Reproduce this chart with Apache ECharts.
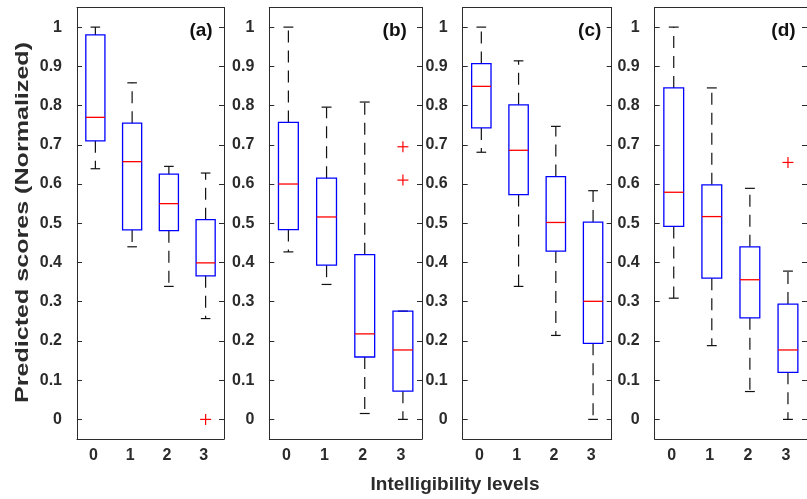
<!DOCTYPE html>
<html><head><meta charset="utf-8">
<script src="https://cdn.jsdelivr.net/npm/echarts@6/dist/echarts.min.js"></script>
<style>html,body{margin:0;padding:0;background:#fff}#c{width:807px;height:499px}</style>
</head><body><div id="c"></div><script>
// ---- data ----
const levels = ['0', '1', '2', '3'];
const yTicks = [0, 0.1, 0.2, 0.3, 0.4, 0.5, 0.6, 0.7, 0.8, 0.9, 1];
// each row: [lower whisker, Q1, median, Q3, upper whisker]
const boxA = [[0.639, 0.710, 0.770, 0.980, 1.000], [0.440, 0.483, 0.657, 0.755, 0.858], [0.339, 0.481, 0.550, 0.625, 0.645], [0.257, 0.366, 0.399, 0.509, 0.628]];
const boxB = [[0.427, 0.484, 0.600, 0.757, 1.000], [0.344, 0.393, 0.516, 0.615, 0.796], [0.015, 0.159, 0.218, 0.420, 0.809], [0.000, 0.072, 0.177, 0.276, 0.276]];
const boxC = [[0.681, 0.743, 0.849, 0.907, 1.000], [0.339, 0.573, 0.686, 0.802, 0.914], [0.214, 0.429, 0.502, 0.619, 0.747], [0.000, 0.194, 0.301, 0.503, 0.583]];
const boxD = [[0.309, 0.492, 0.579, 0.845, 1.000], [0.188, 0.360, 0.517, 0.598, 0.845], [0.071, 0.259, 0.356, 0.440, 0.589], [0.000, 0.120, 0.177, 0.294, 0.378]];
// outliers: [level index, value]
const outA = [[3, 0.000]];
const outB = [[3, 0.695], [3, 0.610]];
const outC = [];
const outD = [[3, 0.655]];
const panelLabels = ['(a)', '(b)', '(c)', '(d)'];
const xTitle = 'Intelligibility levels';
const yTitle = 'Predicted scores (Normalized)';

// ---- layout / style ----
const boxes = [boxA, boxB, boxC, boxD];
const outs = [outA, outB, outC, outD];
const gridPos = [{left: 77, width: 147}, {left: 269.3, width: 152.7}, {left: 462.7, width: 149}, {left: 654.7, width: 160}];
const labelPos = [[201, 31], [394.7, 31], [589.7, 31], [783.5, 31]];
const FONT = '"Liberation Sans", Arial, Helvetica, sans-serif';
const AX = '#2b2b2b';

function renderBox(params, api) {
  const x = api.value(0);
  const band = api.size([1, 0])[0];
  const bw = band * 0.52, cw = band * 0.26;
  const p = i => api.coord([x, api.value(i)]);
  const lw = p(1), q1 = p(2), md = p(3), q3 = p(4), uw = p(5);
  const cx = lw[0];
  const dash = {stroke: '#111', lineWidth: 1.2, lineDash: [12, 8]};
  const solid = {stroke: '#111', lineWidth: 1.2};
  return {type: 'group', children: [
    {type: 'line', shape: {x1: cx, y1: q3[1], x2: cx, y2: uw[1]}, style: dash},
    {type: 'line', shape: {x1: cx, y1: q1[1], x2: cx, y2: lw[1]}, style: dash},
    {type: 'line', shape: {x1: cx - cw / 2, y1: uw[1], x2: cx + cw / 2, y2: uw[1]}, style: solid},
    {type: 'line', shape: {x1: cx - cw / 2, y1: lw[1], x2: cx + cw / 2, y2: lw[1]}, style: solid},
    {type: 'rect', shape: {x: cx - bw / 2, y: q3[1], width: bw, height: q1[1] - q3[1]},
      style: {fill: 'transparent', stroke: '#0000ff', lineWidth: 1.3}},
    {type: 'line', shape: {x1: cx - bw / 2, y1: md[1], x2: cx + bw / 2, y2: md[1]}, style: {stroke: '#ff0000', lineWidth: 1.3}}
  ]};
}
function renderOut(params, api) {
  const c = api.coord([api.value(0), api.value(1)]);
  const s = 5.5;
  const st = {stroke: '#ff0000', lineWidth: 1.2};
  return {type: 'group', children: [
    {type: 'line', shape: {x1: c[0] - s, y1: c[1], x2: c[0] + s, y2: c[1]}, style: st},
    {type: 'line', shape: {x1: c[0], y1: c[1] - s, x2: c[0], y2: c[1] + s}, style: st}
  ]};
}

const grid = [], xAxis = [], yAxis = [], series = [], graphic = [];
gridPos.forEach((g, i) => {
  grid.push({left: g.left, width: g.width, top: 7.5, height: 431.5, containLabel: false});
  const lineStyle = {color: AX, width: 1};
  xAxis.push({type: 'category', gridIndex: i, data: levels, position: 'bottom', boundaryGap: true,
    axisLine: {onZero: false, lineStyle}, axisTick: {inside: true, alignWithLabel: true, length: 5, lineStyle},
    axisLabel: {fontFamily: FONT, fontSize: 16, fontWeight: 'bold', color: AX, margin: 9, padding: [0, 4, 0, 0]},
    splitLine: {show: false}});
  xAxis.push({type: 'category', gridIndex: i, data: levels, position: 'top', boundaryGap: true,
    axisLine: {onZero: false, lineStyle}, axisTick: {inside: true, alignWithLabel: true, length: 5, lineStyle},
    axisLabel: {show: false}, splitLine: {show: false}});
  yAxis.push({type: 'value', gridIndex: i, position: 'left', min: -0.05, max: 1.05,
    axisLine: {show: true, onZero: false, lineStyle},
    axisTick: {show: true, inside: true, length: 5, customValues: yTicks, lineStyle},
    axisLabel: {customValues: yTicks, formatter: v => String(+(+v).toFixed(1)), fontFamily: FONT, fontSize: 16,
      fontWeight: 'bold', color: AX, margin: 15},
    splitLine: {show: false}});
  yAxis.push({type: 'value', gridIndex: i, position: 'right', min: -0.05, max: 1.05,
    axisLine: {show: true, onZero: false, lineStyle},
    axisTick: {show: true, inside: true, length: 5, customValues: yTicks, lineStyle},
    axisLabel: {show: false}, splitLine: {show: false}});
  series.push({type: 'custom', xAxisIndex: 2 * i, yAxisIndex: 2 * i, renderItem: renderBox,
    encode: {x: 0, y: [1, 2, 3, 4, 5]},
    data: boxes[i].map((r, k) => [k].concat(r)), silent: true, animation: false});
  series.push({type: 'custom', xAxisIndex: 2 * i, yAxisIndex: 2 * i, renderItem: renderOut,
    encode: {x: 0, y: 1}, data: outs[i], silent: true, animation: false});
  graphic.push({type: 'text', x: labelPos[i][0], y: labelPos[i][1],
    style: {text: panelLabels[i], textAlign: 'center', textVerticalAlign: 'middle',
      font: 'bold 19px ' + FONT, fill: '#111'}});
});
graphic.push({type: 'text', x: 455, y: 485, style: {text: xTitle, textAlign: 'center', textVerticalAlign: 'middle',
  font: 'bold 19px ' + FONT, fill: AX}});
graphic.push({type: 'text', x: 22.5, y: 222.5, rotation: Math.PI / 2, scaleX: 1.32, scaleY: 1,
  style: {text: yTitle, textAlign: 'center', textVerticalAlign: 'middle', font: 'bold 19px ' + FONT, fill: AX}});

const chart = echarts.init(document.getElementById('c'), null, {renderer: 'canvas'});
chart.setOption({animation: false, backgroundColor: '#fff', grid, xAxis, yAxis, series, graphic});
</script></body></html>
